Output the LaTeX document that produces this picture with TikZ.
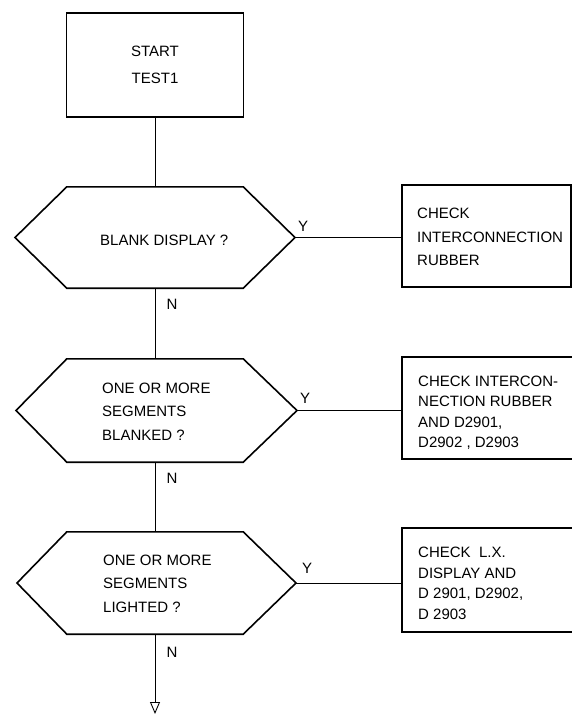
\documentclass[tikz,border=0pt]{standalone}
\usepackage{fontspec}
\setmainfont{Liberation Sans}
\usetikzlibrary{arrows.meta,calc}
\begin{document}
\begin{tikzpicture}[x=1pt,y=-1pt,
  shapeline/.style={line width=1.6pt},
  conn/.style={line width=0.8pt},
  lbl/.style={font=\fontsize{15}{18}\selectfont, inner sep=0pt},
  hextxt/.style={font=\fontsize{15}{23.5}\selectfont, align=left, inner sep=0pt, anchor=west},
  boxtxt/.style={font=\fontsize{15}{20.5}\selectfont, align=left, inner sep=0pt, anchor=west},
  hexcore/.style={minimum width=176pt, minimum height=#1, inner sep=0pt},
  boxframe/.style={draw, shapeline, inner sep=0pt},
]
\useasboundingbox (0,0) rectangle (572,715);

% start box
\node[boxframe, minimum width=177pt, minimum height=104pt, align=center,
      font=\fontsize{15}{27}\selectfont] (start) at (155,65) {START\\TEST1};

% decision 1
\node[hexcore=101pt] (h1) at (155,237.5) {};
\coordinate (h1w) at (15,237.5);
\coordinate (h1e) at (295,237.5);
\draw[shapeline] (h1.north west) -- (h1.north east) -- (h1e) -- (h1.south east)
  -- (h1.south west) -- (h1w) -- cycle;
\node[hextxt] (t1) at (100,240) {BLANK DISPLAY ?};

% decision 2
\node[hexcore=103pt] (h2) at (155,410.5) {};
\coordinate (h2w) at (16,410.5);
\coordinate (h2e) at (297,410.5);
\draw[shapeline] (h2.north west) -- (h2.north east) -- (h2e) -- (h2.south east)
  -- (h2.south west) -- (h2w) -- cycle;
\node[hextxt] (t2) at (102,411.5) {ONE OR MORE\\SEGMENTS\\BLANKED ?};

% decision 3
\node[hexcore=102pt] (h3) at (155,583) {};
\coordinate (h3w) at (17,583);
\coordinate (h3e) at (296,583);
\draw[shapeline] (h3.north west) -- (h3.north east) -- (h3e) -- (h3.south east)
  -- (h3.south west) -- (h3w) -- cycle;
\node[hextxt] (t3) at (103,583.5) {ONE OR MORE\\SEGMENTS\\LIGHTED ?};

% action boxes
\node[boxframe, minimum width=169pt, minimum height=102pt] (b1) at (486.5,236) {};
\node[hextxt] (bt1) at (417,237) {CHECK\\INTERCONNECTION\\RUBBER};

\node[boxframe, minimum width=174pt, minimum height=102pt] (b2) at (489,408) {};
\node[boxtxt] (bt2) at (418,412.5) {CHECK INTERCON-\\NECTION RUBBER\\AND D2901,\\D2902 , D2903};

\node[boxframe, minimum width=174pt, minimum height=104pt] (b3) at (489,580) {};
\node[boxtxt] (bt3) at (418,583.5) {CHECK\ \ L.X.\\DISPLAY AND\\D 2901, D2902,\\D 2903};

% connectors
\draw[conn] (start.south) -- (h1.north);
\draw[conn] (h1.south) -- (h2.north);
\draw[conn] (h2.south) -- (h3.north);
\coordinate (endpt) at (155,714);
\draw[conn, -{Triangle[open, width=10pt, length=12pt, line width=0.9pt]}] (h3.south) -- (endpt);

\draw[conn] (h1e) -- (h1e -| b1.west);
\draw[conn] (h2e) -- (h2e -| b2.west);
\draw[conn] (h3e) -- (h3e -| b3.west);

% labels
\node[lbl] (y1) at (303,226) {Y};
\node[lbl] (y2) at (305,398) {Y};
\node[lbl] (y3) at (307,568) {Y};
\node[lbl] (n1) at (172,304) {N};
\node[lbl] (n2) at (172,478) {N};
\node[lbl] (n3) at (172,652) {N};
\end{tikzpicture}
\end{document}
